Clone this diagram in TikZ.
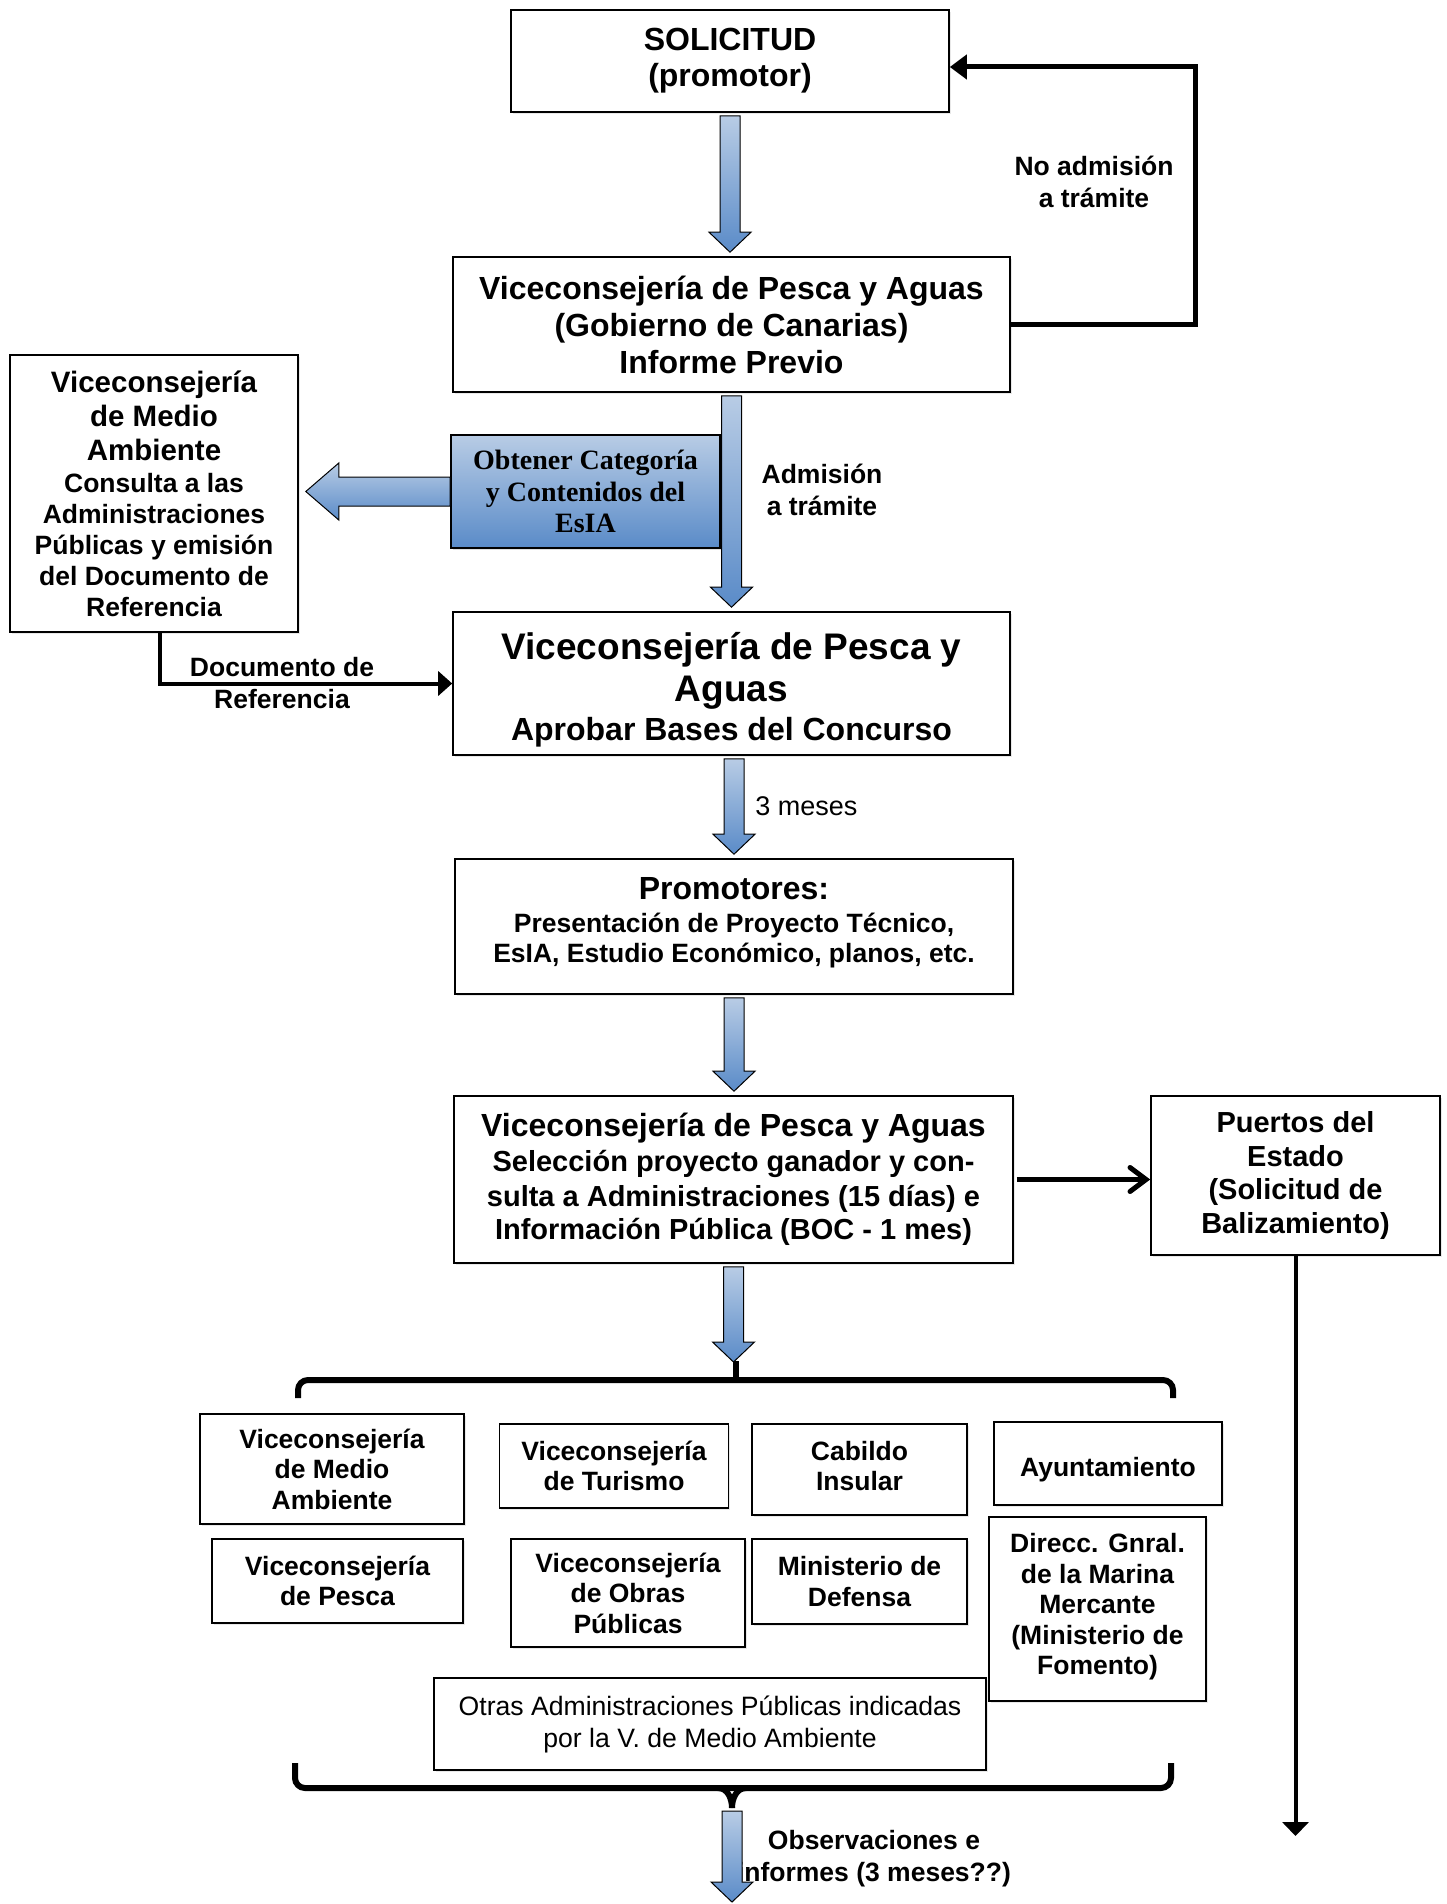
\documentclass[tikz,border=0pt]{standalone}
\usepackage{fontspec}
\setmainfont{Liberation Sans}
\newfontfamily\obtfont{Liberation Serif}
\usetikzlibrary{arrows.meta,calc,shadows}
\definecolor{btop}{HTML}{B8CCE5}
\definecolor{bbot}{HTML}{5A8BC8}
\tikzset{
  box/.style={draw=black, line width=0.8pt, fill=white, align=center, inner sep=0pt,
    drop shadow={shadow xshift=0.8pt, shadow yshift=-1.2pt, opacity=0.18}},
  bluebox/.style={draw=black, line width=0.8pt, top color=btop, bottom color=bbot, align=center, inner sep=0pt,
    drop shadow={shadow xshift=0.8pt, shadow yshift=-1.2pt, opacity=0.25}},
  blockar/.style={draw=black, line width=0.5pt, top color=btop, bottom color=bbot},
  lbl/.style={align=center, inner sep=0pt, font=\bfseries\fontsize{13.25}{16}\selectfont},
  thickln/.style={line width=2.5pt, line join=miter},
  medln/.style={line width=2pt, line join=miter},
  brk/.style={line width=3pt},
  tbig/.style={font=\bfseries\fontsize{16}{18.5}\selectfont},
  tsmall/.style={font=\bfseries\fontsize{13.25}{15.25}\selectfont}
}
\newcommand{\blockdown}[2]{%
  \path[blockar] let \p1=(#1), \p2=(#2) in
    (\x1-5pt,\y1-1.5pt) -- (\x1+5pt,\y1-1.5pt) -- (\x1+5pt,\y2+12pt) -- (\x1+10.5pt,\y2+12pt)
    -- (\x1,\y2+2pt) -- (\x1-10.5pt,\y2+12pt) -- (\x1-5pt,\y2+12pt) -- cycle;}
\newcommand{\blockleft}[2]{%
  \path[blockar] let \p1=(#1), \p2=(#2) in
    (\x1,\y1+7.25pt) -- (\x2+16.5pt,\y1+7.25pt) -- (\x2+16.5pt,\y1+14.25pt) -- (\x2,\y1)
    -- (\x2+16.5pt,\y1-14.25pt) -- (\x2+16.5pt,\y1-7.25pt) -- (\x1,\y1-7.25pt) -- cycle;}
\begin{document}
\begin{tikzpicture}[x=0.5pt,y=-0.5pt]
\useasboundingbox[fill=white] (0,0) rectangle (1446,1904);

% main boxes
\node[box, tbig, font=\bfseries\fontsize{16}{18}\selectfont, minimum width=219pt, minimum height=51pt] (sol) at (730,61) {SOLICITUD\\(promotor)};
\node[box, tbig, minimum width=278.5pt, minimum height=67.5pt] (vpa1) at (731.5,324.5)
  {Viceconsejería de Pesca y Aguas\\(Gobierno de Canarias)\\Informe Previo};
\node[box, font=\bfseries\fontsize{13.25}{15.5}\selectfont, minimum width=144pt, minimum height=138.5pt] (vmal) at (154,493.5)
  {{\fontsize{14.75}{15.5}\selectfont Viceconsejería}\\[1.5pt]{\fontsize{14.75}{15.5}\selectfont de Medio}\\[1.5pt]{\fontsize{14.75}{15.5}\selectfont Ambiente}\\[0.5pt]Consulta a las\\Administraciones\\Públicas y emisión\\del Documento de\\Referencia};
\node[bluebox, font=\obtfont\bfseries\fontsize{14}{15.75}\selectfont, minimum width=134.5pt, minimum height=56.5pt] (obt) at (585.5,491.5)
  {Obtener Categoría\\y Contenidos del\\EsIA};
\node[box, font=\bfseries\fontsize{16}{19.5}\selectfont, minimum width=278.5pt, minimum height=71.5pt] (vpa2) at (731.5,683.5)
  {\rule{0pt}{20pt}{\fontsize{18.5}{19.5}\selectfont Viceconsejería de Pesca y}\\[1.5pt]{\fontsize{18.5}{19.5}\selectfont Aguas}\\Aprobar Bases del Concurso};
\node[box, font=\bfseries\fontsize{13.25}{15}\selectfont, minimum width=279pt, minimum height=67.5pt] (prom) at (734,926.5)
  {{\fontsize{16}{15}\selectfont Promotores:}\\[1.5pt]Presentación de Proyecto Técnico,\\EsIA, Estudio Económico, planos, etc.\rule[-6.4pt]{0pt}{0pt}};
\node[box, font=\bfseries\fontsize{14.5}{16.5}\selectfont, minimum width=279.5pt, minimum height=83.5pt] (vpa3) at (733.5,1179.5)
  {{\fontsize{16}{16.5}\selectfont Viceconsejería de Pesca y Aguas}\\[1pt]Selección proyecto ganador y con-\\[1pt]sulta a Administraciones (15 días) e\\Información Pública (BOC - 1 mes)};
\node[box, font=\bfseries\fontsize{14.5}{16.75}\selectfont, minimum width=144.5pt, minimum height=79.5pt] (puer) at (1295.5,1175.5)
  {Puertos del\\Estado\\(Solicitud de\\Balizamiento)};

% small boxes
\node[box, tsmall, minimum width=132pt, minimum height=55pt] (s1) at (332,1469) {Viceconsejería\\de Medio\\Ambiente};
\node[box, tsmall, minimum width=114.5pt, minimum height=42pt] (s2) at (614,1466) {Viceconsejería\\de Turismo};
\node[box, tsmall, minimum width=107.5pt, minimum height=45.5pt] (s3) at (859.5,1469.5) {Cabildo\\Insular\rule[-3.6pt]{0pt}{0pt}};
\node[box, tsmall, minimum width=114pt, minimum height=41.5pt] (s4) at (1108,1463.5) {\rule{0pt}{16pt}Ayuntamiento};
\node[box, tsmall, minimum width=125.5pt, minimum height=42pt] (s5) at (337.5,1581) {Viceconsejería\\de Pesca};
\node[box, tsmall, minimum width=117pt, minimum height=54pt] (s6) at (628,1593) {Viceconsejería\\de Obras\\Públicas};
\node[box, tsmall, minimum width=107.5pt, minimum height=42.5pt] (s7) at (859.5,1581.5) {Ministerio de\\Defensa};
\node[box, tsmall, minimum width=108.5pt, minimum height=92pt] (s8) at (1097.5,1609) {Direcc. Gnral.\\de la Marina\\Mercante\\(Ministerio de\\Fomento)\rule[-5pt]{0pt}{0pt}};
\node[box, font=\fontsize{13.3}{16}\selectfont, minimum width=276pt, minimum height=46pt] (s9) at (710,1724) {Otras Administraciones Públicas indicadas\\por la V. de Medio Ambiente};

% labels
\node[lbl] (lnoad) at (1094,182) {No admisión\\a trámite};
\node[lbl] (ladm) at (822,490) {Admisión\\a trámite};
\node[lbl] (ldoc) at (282,683) {Documento de\\Referencia};
\node[anchor=west, inner sep=0pt, font=\fontsize{13.5}{16}\selectfont] (l3m) at (755,806) {3 meses};
\node[lbl] (lobs) at (874,1859) {Observaciones e\\informes (3 meses??)};

% block arrows
\blockdown{sol.south}{vpa1.north}
\blockdown{vpa1.south}{vpa2.north}
\coordinate (c2) at (vpa2.south -| prom.north);
\blockdown{c2}{prom.north}
\blockdown{prom.south}{vpa3.north}
\blockleft{obt.west}{[xshift=3.5pt]vmal.east}

% feedback connector
\coordinate (fbx) at (1195,200);
\coordinate (solin) at ([yshift=-3pt]sol.east);
\draw[thickln, -{Triangle[length=8.5pt,width=12pt]}] (vpa1.east) -- (vpa1.east -| fbx) -- (fbx |- solin) -- (solin);

% documento de referencia
\coordinate (dstart) at ([xshift=3pt]vmal.south);
\draw[medln, -{Triangle[length=7pt,width=12pt]}] (dstart) |- (vpa2.west);

% to puertos
\coordinate (pst) at ([xshift=1.5pt]vpa3.east);
\draw[thickln, -{Straight Barb[length=8pt,width=12pt,line cap=round]}] (pst) -- (pst -| puer.west);
\coordinate (pend) at (1295.5,1836);
\draw[medln, -{Triangle[length=7pt,width=13pt]}] (puer.south) -- (pend);

% top bracket
\coordinate (b1l) at (298,1398);
\coordinate (b1lc) at (298,1380);
\coordinate (b1rc) at (1173,1380);
\coordinate (b1r) at (1173,1398);
\draw[brk, rounded corners=5pt] (b1l) -- (b1lc) -- (b1rc) -- (b1r);
\coordinate (b1top) at (736,1361);
\coordinate (b1mid) at (736,1381);
\draw[brk] (b1top) -- (b1mid);
\coordinate (b1tip) at (736,1366);
\blockdown{vpa3.south}{b1tip}

% bottom bracket
\coordinate (b2l) at (295,1763);
\coordinate (b2lc) at (295,1788);
\coordinate (b2rc) at (1171,1788);
\coordinate (b2r) at (1171,1763);
\draw[brk, rounded corners=5pt] (b2l) -- (b2lc) -- (b2rc) -- (b2r);
\coordinate (b2fl) at (718,1788);
\coordinate (b2fr) at (746,1788);
\coordinate (b2s) at (732,1808);
\draw[brk] (b2fl) to[out=0,in=90] (b2s);
\draw[brk] (b2fr) to[out=180,in=90] (b2s);
\coordinate (fend) at (732,1906);
\blockdown{b2s}{fend}
\end{tikzpicture}
\end{document}
